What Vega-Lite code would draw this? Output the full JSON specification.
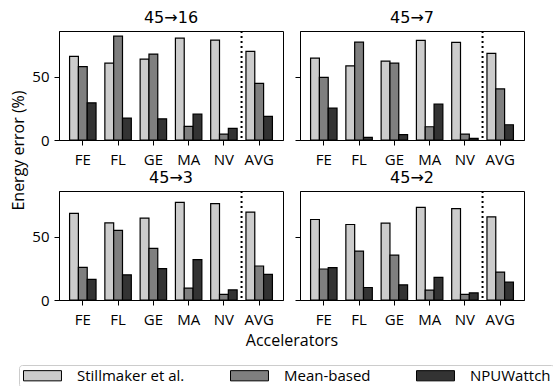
{
  "$schema": "https://vega.github.io/schema/vega-lite/v6.json",
  "background": "white",
  "padding": {"left": 10, "top": 9, "right": 0, "bottom": 0},
  "config": {
    "font": "Open Sans",
    "view": {"stroke": "black", "strokeWidth": 1},
    "axis": {"grid": false, "domainColor": "black", "tickColor": "black", "labelColor": "black", "titleColor": "black", "labelFontSize": 15, "titleFontSize": 16, "titleFontWeight": "normal", "tickSize": 5, "titlePadding": 5},
    "axisX": {"labelPadding": 7, "labelAngle": 0},
    "axisY": {"labelPadding": 5},
    "title": {"font": "DejaVu Sans", "fontSize": 16, "fontWeight": "normal", "color": "black", "offset": 4},
    "legend": {"orient": "none", "legendX": -40, "legendY": 334, "direction": "horizontal", "columns": 3, "title": null, "labelFontSize": 15, "labelColor": "black", "labelOffset": 40, "columnPadding": 43, "strokeColor": "#cccccc", "cornerRadius": 3, "padding": 3, "symbolType": "M-1,-0.85H5.33V0.85H-1Z", "symbolSize": 144, "symbolStrokeColor": "black", "symbolStrokeWidth": 1, "symbolOpacity": 1}
  },
  "data": {"values": [
    {"panel": "45→16", "acc": "FE", "method": "Stillmaker et al.", "value": 66.3},
    {"panel": "45→16", "acc": "FE", "method": "Mean-based", "value": 58.2},
    {"panel": "45→16", "acc": "FE", "method": "NPUWattch", "value": 29.5},
    {"panel": "45→16", "acc": "FL", "method": "Stillmaker et al.", "value": 61.0},
    {"panel": "45→16", "acc": "FL", "method": "Mean-based", "value": 82.4},
    {"panel": "45→16", "acc": "FL", "method": "NPUWattch", "value": 17.4},
    {"panel": "45→16", "acc": "GE", "method": "Stillmaker et al.", "value": 64.2},
    {"panel": "45→16", "acc": "GE", "method": "Mean-based", "value": 68.2},
    {"panel": "45→16", "acc": "GE", "method": "NPUWattch", "value": 16.8},
    {"panel": "45→16", "acc": "MA", "method": "Stillmaker et al.", "value": 80.8},
    {"panel": "45→16", "acc": "MA", "method": "Mean-based", "value": 10.8},
    {"panel": "45→16", "acc": "MA", "method": "NPUWattch", "value": 20.5},
    {"panel": "45→16", "acc": "NV", "method": "Stillmaker et al.", "value": 79.2},
    {"panel": "45→16", "acc": "NV", "method": "Mean-based", "value": 4.7},
    {"panel": "45→16", "acc": "NV", "method": "NPUWattch", "value": 9.2},
    {"panel": "45→16", "acc": "AVG", "method": "Stillmaker et al.", "value": 70.3},
    {"panel": "45→16", "acc": "AVG", "method": "Mean-based", "value": 45.0},
    {"panel": "45→16", "acc": "AVG", "method": "NPUWattch", "value": 18.7},
    {"panel": "45→7", "acc": "FE", "method": "Stillmaker et al.", "value": 65.0},
    {"panel": "45→7", "acc": "FE", "method": "Mean-based", "value": 49.7},
    {"panel": "45→7", "acc": "FE", "method": "NPUWattch", "value": 25.3},
    {"panel": "45→7", "acc": "FL", "method": "Stillmaker et al.", "value": 58.9},
    {"panel": "45→7", "acc": "FL", "method": "Mean-based", "value": 77.6},
    {"panel": "45→7", "acc": "FL", "method": "NPUWattch", "value": 2.1},
    {"panel": "45→7", "acc": "GE", "method": "Stillmaker et al.", "value": 62.6},
    {"panel": "45→7", "acc": "GE", "method": "Mean-based", "value": 61.0},
    {"panel": "45→7", "acc": "GE", "method": "NPUWattch", "value": 4.2},
    {"panel": "45→7", "acc": "MA", "method": "Stillmaker et al.", "value": 79.0},
    {"panel": "45→7", "acc": "MA", "method": "Mean-based", "value": 10.5},
    {"panel": "45→7", "acc": "MA", "method": "NPUWattch", "value": 28.4},
    {"panel": "45→7", "acc": "NV", "method": "Stillmaker et al.", "value": 77.4},
    {"panel": "45→7", "acc": "NV", "method": "Mean-based", "value": 4.7},
    {"panel": "45→7", "acc": "NV", "method": "NPUWattch", "value": 1.3},
    {"panel": "45→7", "acc": "AVG", "method": "Stillmaker et al.", "value": 68.7},
    {"panel": "45→7", "acc": "AVG", "method": "Mean-based", "value": 40.5},
    {"panel": "45→7", "acc": "AVG", "method": "NPUWattch", "value": 12.1},
    {"panel": "45→3", "acc": "FE", "method": "Stillmaker et al.", "value": 68.7},
    {"panel": "45→3", "acc": "FE", "method": "Mean-based", "value": 25.9},
    {"panel": "45→3", "acc": "FE", "method": "NPUWattch", "value": 16.3},
    {"panel": "45→3", "acc": "FL", "method": "Stillmaker et al.", "value": 61.2},
    {"panel": "45→3", "acc": "FL", "method": "Mean-based", "value": 55.3},
    {"panel": "45→3", "acc": "FL", "method": "NPUWattch", "value": 20.0},
    {"panel": "45→3", "acc": "GE", "method": "Stillmaker et al.", "value": 65.0},
    {"panel": "45→3", "acc": "GE", "method": "Mean-based", "value": 40.9},
    {"panel": "45→3", "acc": "GE", "method": "NPUWattch", "value": 24.9},
    {"panel": "45→3", "acc": "MA", "method": "Stillmaker et al.", "value": 77.5},
    {"panel": "45→3", "acc": "MA", "method": "Mean-based", "value": 9.4},
    {"panel": "45→3", "acc": "MA", "method": "NPUWattch", "value": 32.1},
    {"panel": "45→3", "acc": "NV", "method": "Stillmaker et al.", "value": 76.5},
    {"panel": "45→3", "acc": "NV", "method": "Mean-based", "value": 4.5},
    {"panel": "45→3", "acc": "NV", "method": "NPUWattch", "value": 8.0},
    {"panel": "45→3", "acc": "AVG", "method": "Stillmaker et al.", "value": 69.8},
    {"panel": "45→3", "acc": "AVG", "method": "Mean-based", "value": 27.0},
    {"panel": "45→3", "acc": "AVG", "method": "NPUWattch", "value": 20.3},
    {"panel": "45→2", "acc": "FE", "method": "Stillmaker et al.", "value": 63.9},
    {"panel": "45→2", "acc": "FE", "method": "Mean-based", "value": 24.6},
    {"panel": "45→2", "acc": "FE", "method": "NPUWattch", "value": 25.7},
    {"panel": "45→2", "acc": "FL", "method": "Stillmaker et al.", "value": 59.9},
    {"panel": "45→2", "acc": "FL", "method": "Mean-based", "value": 38.8},
    {"panel": "45→2", "acc": "FL", "method": "NPUWattch", "value": 9.9},
    {"panel": "45→2", "acc": "GE", "method": "Stillmaker et al.", "value": 61.0},
    {"panel": "45→2", "acc": "GE", "method": "Mean-based", "value": 35.6},
    {"panel": "45→2", "acc": "GE", "method": "NPUWattch", "value": 12.0},
    {"panel": "45→2", "acc": "MA", "method": "Stillmaker et al.", "value": 73.5},
    {"panel": "45→2", "acc": "MA", "method": "Mean-based", "value": 7.8},
    {"panel": "45→2", "acc": "MA", "method": "NPUWattch", "value": 17.9},
    {"panel": "45→2", "acc": "NV", "method": "Stillmaker et al.", "value": 72.5},
    {"panel": "45→2", "acc": "NV", "method": "Mean-based", "value": 4.5},
    {"panel": "45→2", "acc": "NV", "method": "NPUWattch", "value": 5.6},
    {"panel": "45→2", "acc": "AVG", "method": "Stillmaker et al.", "value": 66.0},
    {"panel": "45→2", "acc": "AVG", "method": "Mean-based", "value": 22.2},
    {"panel": "45→2", "acc": "AVG", "method": "NPUWattch", "value": 14.2}
  ]},
  "columns": 2,
  "spacing": {"row": 51, "column": 17},
  "bounds": "flush",
  "concat": [
    {
      "title": "45→16",
      "width": 224, "height": 109,
      "transform": [{"filter": "datum.panel === '45→16'"}],
      "layer": [
        {
          "mark": {"type": "bar", "stroke": "black", "strokeWidth": 1.2},
          "encoding": {
            "x": {"field": "acc", "type": "nominal", "scale": {"domain": ["FE", "FL", "GE", "MA", "NV", "AVG"], "paddingInner": 0.25, "paddingOuter": 0.3}, "axis": {"title": null}},
            "xOffset": {"field": "method", "type": "nominal", "scale": {"domain": ["Stillmaker et al.", "Mean-based", "NPUWattch"], "paddingInner": 0, "paddingOuter": 0}},
            "y": {"field": "value", "type": "quantitative", "scale": {"domain": [0, 86.5], "nice": false}, "axis": {"values": [0, 50], "title": "Energy error (%)", "titleY": 119}},
            "color": {"field": "method", "type": "nominal", "scale": {"domain": ["Stillmaker et al.", "Mean-based", "NPUWattch"], "range": ["#cccccc", "#7f7f7f", "#333333"]}}
          }
        },
        {
          "transform": [{"filter": "datum.acc === 'AVG' && datum.method === 'NPUWattch'"}],
          "mark": {"type": "rule", "strokeDash": [2, 3], "strokeWidth": 2, "color": "black"},
          "encoding": {"x": {"field": "acc", "type": "nominal", "bandPosition": -0.1667}}
        }
      ]
    },
    {
      "title": "45→7",
      "width": 224, "height": 109,
      "transform": [{"filter": "datum.panel === '45→7'"}],
      "layer": [
        {
          "mark": {"type": "bar", "stroke": "black", "strokeWidth": 1.2},
          "encoding": {
            "x": {"field": "acc", "type": "nominal", "scale": {"domain": ["FE", "FL", "GE", "MA", "NV", "AVG"], "paddingInner": 0.25, "paddingOuter": 0.3}, "axis": {"title": null}},
            "xOffset": {"field": "method", "type": "nominal", "scale": {"domain": ["Stillmaker et al.", "Mean-based", "NPUWattch"], "paddingInner": 0, "paddingOuter": 0}},
            "y": {"field": "value", "type": "quantitative", "scale": {"domain": [0, 86.5], "nice": false}, "axis": {"values": [0, 50], "title": null, "labels": false}},
            "color": {"field": "method", "type": "nominal", "scale": {"domain": ["Stillmaker et al.", "Mean-based", "NPUWattch"], "range": ["#cccccc", "#7f7f7f", "#333333"]}}
          }
        },
        {
          "transform": [{"filter": "datum.acc === 'AVG' && datum.method === 'NPUWattch'"}],
          "mark": {"type": "rule", "strokeDash": [2, 3], "strokeWidth": 2, "color": "black"},
          "encoding": {"x": {"field": "acc", "type": "nominal", "bandPosition": -0.1667}}
        }
      ]
    },
    {
      "title": "45→3",
      "width": 224, "height": 109,
      "transform": [{"filter": "datum.panel === '45→3'"}],
      "layer": [
        {
          "mark": {"type": "bar", "stroke": "black", "strokeWidth": 1.2},
          "encoding": {
            "x": {"field": "acc", "type": "nominal", "scale": {"domain": ["FE", "FL", "GE", "MA", "NV", "AVG"], "paddingInner": 0.25, "paddingOuter": 0.3}, "axis": {"title": "Accelerators", "titleX": 232.5}},
            "xOffset": {"field": "method", "type": "nominal", "scale": {"domain": ["Stillmaker et al.", "Mean-based", "NPUWattch"], "paddingInner": 0, "paddingOuter": 0}},
            "y": {"field": "value", "type": "quantitative", "scale": {"domain": [0, 86.5], "nice": false}, "axis": {"values": [0, 50], "title": null}},
            "color": {"field": "method", "type": "nominal", "scale": {"domain": ["Stillmaker et al.", "Mean-based", "NPUWattch"], "range": ["#cccccc", "#7f7f7f", "#333333"]}}
          }
        },
        {
          "transform": [{"filter": "datum.acc === 'AVG' && datum.method === 'NPUWattch'"}],
          "mark": {"type": "rule", "strokeDash": [2, 3], "strokeWidth": 2, "color": "black"},
          "encoding": {"x": {"field": "acc", "type": "nominal", "bandPosition": -0.1667}}
        }
      ]
    },
    {
      "title": "45→2",
      "width": 224, "height": 109,
      "transform": [{"filter": "datum.panel === '45→2'"}],
      "layer": [
        {
          "mark": {"type": "bar", "stroke": "black", "strokeWidth": 1.2},
          "encoding": {
            "x": {"field": "acc", "type": "nominal", "scale": {"domain": ["FE", "FL", "GE", "MA", "NV", "AVG"], "paddingInner": 0.25, "paddingOuter": 0.3}, "axis": {"title": null}},
            "xOffset": {"field": "method", "type": "nominal", "scale": {"domain": ["Stillmaker et al.", "Mean-based", "NPUWattch"], "paddingInner": 0, "paddingOuter": 0}},
            "y": {"field": "value", "type": "quantitative", "scale": {"domain": [0, 86.5], "nice": false}, "axis": {"values": [0, 50], "title": null, "labels": false}},
            "color": {"field": "method", "type": "nominal", "scale": {"domain": ["Stillmaker et al.", "Mean-based", "NPUWattch"], "range": ["#cccccc", "#7f7f7f", "#333333"]}}
          }
        },
        {
          "transform": [{"filter": "datum.acc === 'AVG' && datum.method === 'NPUWattch'"}],
          "mark": {"type": "rule", "strokeDash": [2, 3], "strokeWidth": 2, "color": "black"},
          "encoding": {"x": {"field": "acc", "type": "nominal", "bandPosition": -0.1667}}
        }
      ]
    }
  ]
}
